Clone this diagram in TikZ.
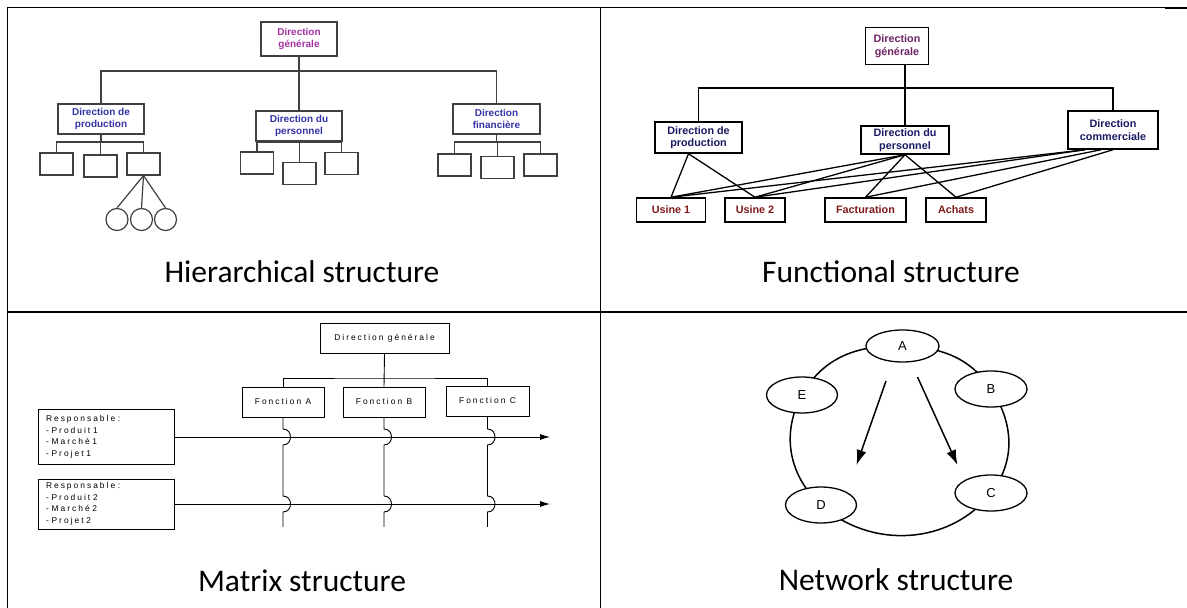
\documentclass[tikz,border=0pt]{standalone}
\usepackage{fontspec}
\setmainfont{Carlito}
\newfontfamily\diagfont{Liberation Sans}
\newfontfamily\spacedfont[LetterSpace=24]{Liberation Sans}
\usetikzlibrary{shapes.geometric,arrows.meta,backgrounds}
\definecolor{hpurple}{RGB}{160,50,160}
\definecolor{hblue}{RGB}{50,50,165}
\definecolor{fpurple}{RGB}{110,35,100}
\definecolor{fnavy}{RGB}{25,25,100}
\definecolor{fred}{RGB}{125,25,25}
\colorlet{hline}{black!75}
\tikzset{>=latex,
  hbox/.style={draw=hline, line width=1.2, align=center, inner sep=1,
    font=\diagfont\bfseries\fontsize{10}{12}\selectfont},
  hleaf/.style={draw=hline, line width=1.2, minimum width=33, minimum height=22},
  hcirc/.style={draw=hline, line width=1.2, circle, minimum size=22},
  fbox/.style={draw, line width=1.5, align=center, inner sep=1,
    font=\diagfont\bfseries\fontsize{10.8}{12.5}\selectfont},
  mbox/.style={draw, line width=0.9, font=\spacedfont\fontsize{8.4}{11.5}\selectfont},
  netnode/.style={draw, ellipse, line width=1.3, fill=white, inner sep=0,
    font=\diagfont\fontsize{13}{15}\selectfont},
  ring/.style={line width=1.5},
  cellcap/.style={font=\fontsize{31.5}{38}\selectfont}
}

\begin{document}
\begin{tikzpicture}[x=1pt,y=1pt]
  \useasboundingbox (0,0) rectangle (1187,608);
  % table
  \draw[line width=1.7] (7.5,0) -- (7.5,600.5) -- (600.5,600.5);
  \draw[line width=1] (600.5,600.5) -- (1165,600.5);
  \draw[line width=2] (1165,600) -- (1187,600);
  \draw[line width=1.7] (600.5,0) -- (600.5,600.5);
  \draw[line width=1.7] (7.5,296) -- (1187,296);
  \node[cellcap] (hcap) at (302,336) {Hierarchical structure};
  \node[cellcap] (fcap) at (891,336) {Functional structure};
  \node[cellcap] (mcap) at (302,27) {Matrix structure};
  \node[cellcap] (ncap) at (896,28) {Network structure};

  % hierarchical structure
  \node[hbox, text=hpurple, minimum width=76, minimum height=34] (hdg) at (299,569) {Direction\\générale};
  \node[hbox, text=hblue, minimum width=86, minimum height=30] (hprod) at (101,489) {Direction de\\production};
  \node[hbox, text=hblue, minimum width=86, minimum height=30] (hpers) at (299,482) {Direction du\\personnel};
  \node[hbox, text=hblue, minimum width=87, minimum height=30] (hfin) at (496.5,489) {Direction\\financière};
  \coordinate (hbus) at (299,537);
  \draw[hline, line width=1.2] (hdg) -- (hpers);
  \draw[hline, line width=1.2] (hprod.north) |- (hbus) -| (hfin.north);
  \node[hleaf] (hp1) at (56.5,444) {};
  \node[hleaf] (hp2) at (100.5,442) {};
  \node[hleaf] (hp3) at (143.5,444) {};
  \node[hleaf] (hq1) at (257,445) {};
  \node[hleaf] (hq2) at (299.5,434.5) {};
  \node[hleaf] (hq3) at (341.5,444.5) {};
  \node[hleaf] (hf1) at (454.5,443) {};
  \node[hleaf] (hf2) at (497.5,440.5) {};
  \node[hleaf] (hf3) at (540.5,443) {};
  \foreach \b/\l/\m/\r in {hprod/hp1/hp2/hp3, hpers/hq1/hq2/hq3, hfin/hf1/hf2/hf3} {
    \draw[hline, line width=1.2] (\b.south) -- (\b.south |- 0,466) coordinate (\b-bus);
    \draw[hline, line width=1.2] (\l.north) |- (\b-bus) -| (\r.north);
    \draw[hline, line width=1.2] (\m.north |- \b-bus) -- (\m.north);
  }
  \foreach \n/\x in {hc1/117, hc2/141.5, hc3/165.5} {
    \node[hcirc] (\n) at (\x,388.5) {};
    \draw[hline, line width=1.2] (hp3.south) -- (\n.north);
  }

  % functional structure
  \node[fbox, text=fpurple, minimum width=63, minimum height=37] (fdg) at (897,562) {Direction\\générale};
  \node[fbox, text=fnavy, minimum width=87, minimum height=31] (fprod) at (698.5,470.5) {Direction de\\production};
  \node[fbox, text=fnavy, minimum width=88, minimum height=28] (fpers) at (905,468) {Direction du\\personnel};
  \node[fbox, text=fnavy, minimum width=90, minimum height=38] (fcom) at (1113,478) {Direction\\commerciale};
  \coordinate (fbus) at (905,520);
  \draw[line width=1.5] (fdg.south -| fpers.north) -- (fpers.north);
  \draw[line width=1.5] (fprod.north) |- (fbus) -| (fcom.north);
  \node[fbox, text=fred, minimum width=69, minimum height=24] (fu1) at (671,398) {Usine 1};
  \node[fbox, text=fred, minimum width=60, minimum height=24] (fu2) at (755,398) {Usine 2};
  \node[fbox, text=fred, minimum width=81, minimum height=24] (ff) at (865.5,398) {Facturation};
  \node[fbox, text=fred, minimum width=60, minimum height=24] (fa) at (956,398) {Achats};
  \foreach \t in {fu1,fu2} \draw[line width=1.3] ([xshift=-10]fprod.south) -- (\t.north);
  \foreach \t/\s in {fu1/-28,fu2/-28,ff/-12,fa/0} {
    \draw[line width=1.3] (fpers.south) -- (\t.north);
    \draw[line width=1.3] ([xshift=\s]fcom.south) -- (\t.north);
  }

  % matrix structure
  \node[mbox, minimum width=129, minimum height=30] (mdg) at (384.5,270) {Direction générale};
  \node[mbox, minimum width=82, minimum height=30] (mfa) at (283,206) {Fonction A};
  \node[mbox, minimum width=82, minimum height=30] (mfb) at (384,206) {Fonction B};
  \node[mbox, minimum width=83, minimum height=30] (mfc) at (487.5,207) {Fonction C};
  \coordinate (mleft) at (30,246);
  \coordinate (mbus) at (384,230);
  \draw[double, line width=0.6, double distance=1.4] (mleft) -- (mdg.south |- mleft);
  \draw[line width=0.9] (mdg.south) -- (mfb.north);
  \draw[line width=0.9] (mfa.north) |- (mbus) -| (mfc.north);
  \node[mbox, text width=120, inner xsep=8, align=left, minimum height=55] (mr1) at (106,171) {Responsable :\\- Produit 1\\- Marché 1\\- Projet 1};
  \node[mbox, text width=120, inner xsep=8, align=left, minimum height=50] (mr2) at (106,104) {Responsable :\\- Produit 2\\- Marché 2\\- Projet 2};
  \coordinate (m1e) at (550,171);
  \coordinate (m2e) at (550,104);
  \draw[line width=0.9, -{Latex[length=10pt,width=6pt]}] (mr1.east) -- (m1e);
  \draw[line width=0.9, -{Latex[length=10pt,width=6pt]}] (mr2.east) -- (m2e);
  \foreach \f in {mfa,mfb,mfc}
    \draw[line width=0.9] (\f.south) -- ([yshift=8]\f.south |- mr1.east)
      .. controls +(10,0) and +(10,0) .. ([yshift=-8]\f.south |- mr1.east)
      -- ([yshift=8]\f.south |- mr2.east)
      .. controls +(10,0) and +(10,0) .. ([yshift=-8]\f.south |- mr2.east)
      -- ++(0,-15);

  % network structure
  \node[netnode, minimum width=73, minimum height=32] (nA) at (902.5,262) {A};
  \node[netnode, minimum width=72, minimum height=36] (nB) at (991,219) {B};
  \node[netnode, minimum width=72, minimum height=36] (nC) at (991,115) {C};
  \node[netnode, minimum width=71, minimum height=36] (nD) at (821,103) {D};
  \node[netnode, minimum width=71, minimum height=36] (nE) at (802,213) {E};
  % ring, hidden under the ellipses
  \begin{scope}[on background layer]
    \draw[ring] (nA.center) to[out=-2, in=124] (nB.center);
    \draw[ring] (nB.center) to[out=-56, in=52] (nC.center);
    \draw[ring] (nC.center) to[out=232, in=-42] (nD.center);
    \draw[ring] (nD.center) to[out=138, in=-119] (nE.center);
    \draw[ring] (nE.center) to[out=61, in=178] (nA.center);
  \end{scope}
  \coordinate (n1s) at (886,227);
  \coordinate (n1e) at (856.5,143);
  \coordinate (n2s) at (917.5,231);
  \coordinate (n2e) at (957.5,143);
  \draw[line width=1.5, -{Latex[length=15pt,width=10pt]}] (n1s) -- (n1e);
  \draw[line width=1.5, -{Latex[length=15pt,width=10pt]}] (n2s) -- (n2e);
\end{tikzpicture}
\end{document}
